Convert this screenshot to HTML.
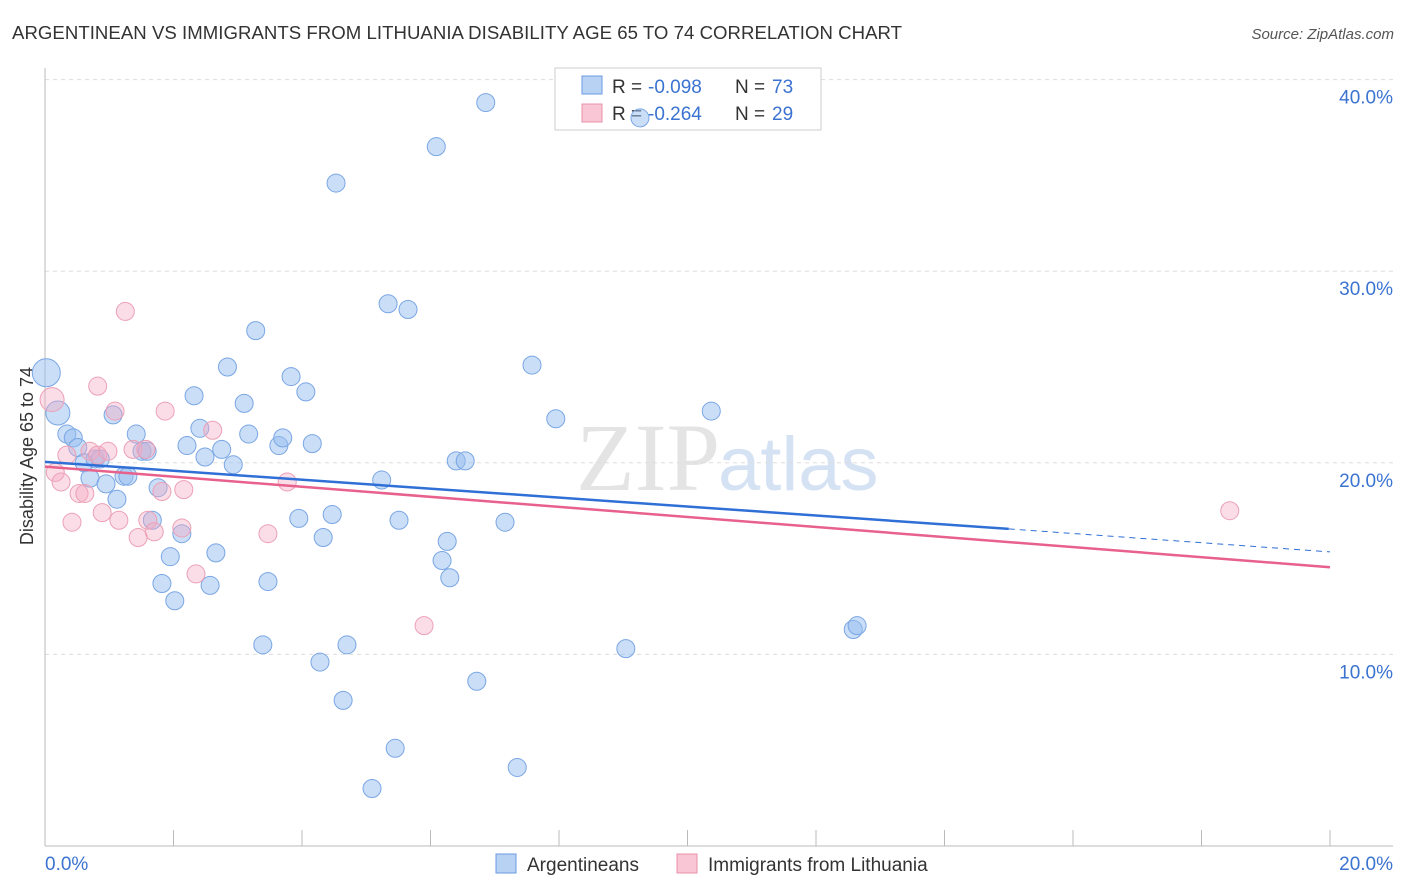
<!DOCTYPE html>
<html><head><meta charset="utf-8"><style>
body{margin:0;background:#fff;font-family:"Liberation Sans",sans-serif}
svg{display:block}
</style></head><body>
<svg id="c" width="1406" height="892">
<text x="12" y="39" font-size="18.6" fill="#333" textLength="890">ARGENTINEAN VS IMMIGRANTS FROM LITHUANIA DISABILITY AGE 65 TO 74 CORRELATION CHART</text>
<text x="1394" y="39" font-size="15" fill="#555" font-style="italic" text-anchor="end">Source: ZipAtlas.com</text>
<text x="720" y="490" font-size="96" fill="#e4e4e4" text-anchor="end" font-family="Liberation Serif,serif">ZIP</text>
<text x="718" y="490" font-size="76" fill="#d4e2f4">atlas</text>
<text transform="translate(33,456) rotate(-90)" font-size="18" fill="#333" text-anchor="middle">Disability Age 65 to 74</text>
<g id="grid"></g>
<g>
<rect x="555" y="68" width="266" height="62" fill="#fff" stroke="#ccc"/>
<rect x="582" y="76" width="20" height="18" fill="#b8d2f4" stroke="#6a9be0"/>
<text x="612" y="93" font-size="19" fill="#333">R =</text>
<text x="648" y="93" font-size="19" fill="#3b73d1">-0.098</text>
<text x="735" y="93" font-size="19" fill="#333">N =</text>
<text x="772" y="93" font-size="19" fill="#3b73d1">73</text>
<rect x="582" y="104" width="20" height="18" fill="#f8c6d4" stroke="#e890a8"/>
<text x="612" y="120" font-size="19" fill="#333">R =</text>
<text x="648" y="120" font-size="19" fill="#3b73d1">-0.264</text>
<text x="735" y="120" font-size="19" fill="#333">N =</text>
<text x="772" y="120" font-size="19" fill="#3b73d1">29</text>
</g>
<g id="pts"></g><g id="lines"></g>
<g>
<rect x="496" y="854" width="20" height="19" fill="#b8d2f4" stroke="#6a9be0"/>
<text x="527" y="871" font-size="19" fill="#333">Argentineans</text>
<rect x="677" y="854" width="20" height="19" fill="#f8c6d4" stroke="#e890a8"/>
<text x="708" y="871" font-size="19" fill="#333">Immigrants from Lithuania</text>
</g>
</svg>
<script>
const yTicks=[10,20,30,40];
const yTickLabels=["10.0%","20.0%","30.0%","40.0%"];
const xTickLabels=["0.0%","20.0%"];
const blueX=[0.02,0.2,0.34,0.44,0.51,0.61,0.70,0.78,0.86,0.95,1.06,1.12,1.23,1.29,1.42,1.51,1.59,1.67,1.76,1.82,1.95,2.02,2.13,2.21,2.32,2.41,2.49,2.57,2.66,2.75,2.84,2.93,3.10,3.17,3.28,3.39,3.47,3.64,3.70,3.83,3.95,4.06,4.16,4.28,4.33,4.47,4.53,4.64,4.70,5.09,5.24,5.34,5.45,5.51,5.65,6.09,6.18,6.26,6.30,6.40,6.54,6.72,6.86,7.16,7.35,7.58,7.95,9.04,9.26,10.37,12.58,12.64];
const blueY=[24.7,22.6,21.5,21.3,20.8,20.0,19.2,20.2,20.2,18.9,22.5,18.1,19.3,19.3,21.5,20.6,20.6,17.0,18.7,13.7,15.1,12.8,16.3,20.9,23.5,21.8,20.3,13.6,15.3,20.7,25.0,19.9,23.1,21.5,26.9,10.5,13.8,20.9,21.3,24.5,17.1,23.7,21.0,9.6,16.1,17.3,34.6,7.6,10.5,3.0,19.1,28.3,5.1,17.0,28.0,36.5,14.9,15.9,14.0,20.1,20.1,8.6,38.8,16.9,4.1,25.1,22.3,10.3,38.0,22.7,11.3,11.5];
const pinkX=[0.11,0.16,0.25,0.34,0.42,0.53,0.62,0.70,0.82,0.89,0.98,1.09,1.15,1.25,1.37,1.45,1.57,1.60,1.70,1.82,1.87,2.13,2.16,2.35,2.61,3.47,3.77,5.90,18.44,0.82];
const pinkY=[23.3,19.5,19.0,20.4,16.9,18.4,18.4,20.6,20.4,17.4,20.6,22.7,17.0,27.9,20.7,16.1,20.7,17.0,16.4,18.5,22.7,16.6,18.6,14.2,21.7,16.3,19.0,11.5,17.5,24.0];
const blueTrend=[20.05,16.55,15.35];
const pinkTrend=[19.8,14.55];
const X=v=>45+v/20*1285, Y=v=>846-v*19.16;
const NS="http://www.w3.org/2000/svg";
function mk(t,a,p){const e=document.createElementNS(NS,t);for(const k in a)e.setAttribute(k,a[k]);p.appendChild(e);return e;}
const g=document.getElementById('grid');
yTicks.forEach((t,i)=>{
 const l=mk('line',{x1:45,x2:1393,y1:Y(t),y2:Y(t),stroke:'#ddd','stroke-dasharray':'4,4'},g);
 
 
 const tx=mk('text',{x:1393,y:Y(t)+24,'font-size':19,fill:'#3b73d1','text-anchor':'end'},g);
 tx.textContent=yTickLabels[i];
 
 
});
const ax=mk('line',{x1:45,x2:1393,y1:846,y2:846,stroke:'#bbb'},g);


const ay=mk('line',{x1:45,x2:45,y1:68,y2:846,stroke:'#bbb'},g);


for(let i=0;i<=10;i++){
 const t=mk('line',{x1:X(i*2),x2:X(i*2),y1:830,y2:846,stroke:'#bbb'},g);
 
 
}
xTickLabels.forEach((s,i)=>{
 const t=mk('text',{x:i?1393:45,y:870,'font-size':19,fill:'#3b73d1','text-anchor':i?'end':'start'},g);
 t.textContent=s;
 
 
});
const p=document.getElementById('pts');
blueX.forEach((x,i)=>{
 const r=i==0?14:(i==1?12:9);
 const c=mk('circle',{cx:X(x),cy:Y(blueY[i]),r:r,fill:'rgba(150,190,240,0.5)',stroke:'#7aa6e4','stroke-width':1},p);
 
 
});
pinkX.forEach((x,i)=>{
 const r=i==0?12:9;
 const c=mk('circle',{cx:X(x),cy:Y(pinkY[i]),r:r,fill:'rgba(245,170,195,0.4)',stroke:'#eca0b6','stroke-width':1},p);
 
 
});
const L=document.getElementById('lines');
const b1=mk('line',{x1:X(0),y1:Y(blueTrend[0]),x2:X(15),y2:Y(blueTrend[1]),stroke:'#2f6fd6','stroke-width':2.5},L);


const b2=mk('line',{x1:X(15),y1:Y(blueTrend[1]),x2:X(20),y2:Y(blueTrend[2]),stroke:'#2f6fd6','stroke-width':1,'stroke-dasharray':'6,5'},L);


const p1=mk('line',{x1:X(0),y1:Y(pinkTrend[0]),x2:X(20),y2:Y(pinkTrend[1]),stroke:'#e8608c','stroke-width':2.5},L);


</script>
</body></html>
